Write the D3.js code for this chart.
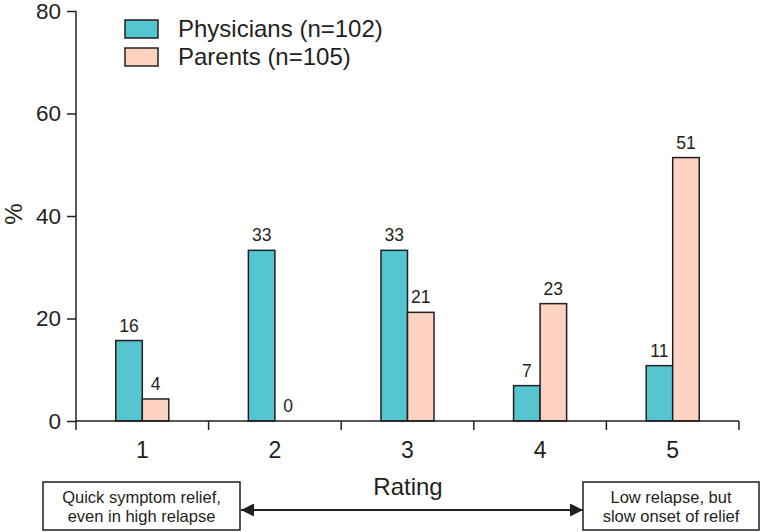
<!DOCTYPE html>
<html>
<head>
<meta charset="utf-8">
<script src="https://cdn.jsdelivr.net/npm/d3@7"></script>
<style>
  body { margin: 0; background: #fff; }
  text { font-family: "Liberation Sans", Arial, sans-serif; fill: #231f20; }
</style>
</head>
<body>
<script>
//Data
var ratings = ["1", "2", "3", "4", "5"];
var seriesNames = ["Physicians (n=102)", "Parents (n=105)"];
var physicians = [15.7, 33.3, 33.3, 6.9, 10.8];
var parents = [4.3, 0, 21.2, 22.9, 51.4];
var physLabels = ["16", "33", "33", "7", "11"];
var parLabels = ["4", "0", "21", "23", "51"];
var yTicks = [0, 20, 40, 60, 80];

var colors = ["#55c5d0", "#fcd3c1"];
var ink = "#231f20";

//Margins
var margin = {left: 76, right: 23, top: 11, bottom: 111},
    width = 762 - margin.left - margin.right,
    height = 532 - margin.top - margin.bottom;

var svg = d3.select("body")
    .append("svg")
    .attr("width", 762)
    .attr("height", 532);

var g = svg.append("g")
    .attr("transform", "translate(" + margin.left + "," + margin.top + ")");

//Scales
var x0 = d3.scaleBand().domain(ratings).range([0, width]).padding(0);
var bw = x0.bandwidth();
var x1 = d3.scaleBand().domain([0, 1]).range([bw / 2 - bw * 0.2, bw / 2 + bw * 0.2]).padding(0);
var y = d3.scaleLinear().domain([0, 80]).range([height, 0]);

//Rows for the grouped bars
var rows = ratings.map(function(r, i) {
  return [
    {cat: r, s: 0, v: physicians[i], label: physLabels[i]},
    {cat: r, s: 1, v: parents[i], label: parLabels[i]}
  ];
});

var groups = g.selectAll("g.grp")
    .data(rows)
    .enter().append("g")
    .attr("class", "grp")
    .attr("transform", function(d) { return "translate(" + x0(d[0].cat) + ",0)"; });

groups.selectAll("rect")
    .data(function(d) { return d.filter(function(e) { return e.v > 0; }); })
    .enter().append("rect")
    .attr("x", function(d) { return x1(d.s); })
    .attr("y", function(d) { return y(d.v); })
    .attr("width", x1.bandwidth())
    .attr("height", function(d) { return height - y(d.v); })
    .attr("fill", function(d) { return colors[d.s]; })
    .attr("stroke", ink)
    .attr("stroke-width", 1.5);

groups.selectAll("text.val")
    .data(function(d) { return d; })
    .enter().append("text")
    .attr("class", "val")
    .attr("x", function(d) { return x1(d.s) + x1.bandwidth() / 2; })
    .attr("y", function(d) { return y(d.v) - 9; })
    .attr("text-anchor", "middle")
    .style("font-size", "17.5px")
    .text(function(d) { return d.label; });

//Y axis
var yAxis = g.append("g")
    .call(d3.axisLeft(y).tickValues(yTicks).tickSize(9).tickPadding(6));
yAxis.select(".domain").attr("stroke", ink).attr("stroke-width", 1.5).attr("d", "M0," + height + "V0");
yAxis.selectAll(".tick line").attr("stroke", ink).attr("stroke-width", 1.5);
yAxis.selectAll(".tick text").style("font-size", "22.5px").attr("fill", ink);

//X axis with ticks at the band edges
var xg = g.append("g").attr("transform", "translate(0," + height + ")");
xg.append("line")
    .attr("x1", 0).attr("x2", width)
    .attr("stroke", ink).attr("stroke-width", 1.5);
var edges = ratings.map(function(r) { return x0(r); }).concat([width]);
xg.selectAll("line.tk")
    .data(edges)
    .enter().append("line")
    .attr("class", "tk")
    .attr("x1", function(d) { return d; }).attr("x2", function(d) { return d; })
    .attr("y1", 0).attr("y2", 9)
    .attr("stroke", ink).attr("stroke-width", 1.5);
xg.selectAll("text.cat")
    .data(ratings)
    .enter().append("text")
    .attr("class", "cat")
    .attr("x", function(d) { return x0(d) + bw / 2; })
    .attr("y", 37)
    .attr("text-anchor", "middle")
    .style("font-size", "23px")
    .text(function(d) { return d; });

//Y label
svg.append("text")
    .attr("transform", "translate(22,214) rotate(-90)")
    .attr("text-anchor", "middle")
    .style("font-size", "24px")
    .text("%");

//Legend
var legend = svg.append("g").attr("transform", "translate(125,20)");
seriesNames.forEach(function(name, i) {
  legend.append("rect")
      .attr("x", 0).attr("y", i * 28)
      .attr("width", 33).attr("height", 18)
      .attr("fill", colors[i])
      .attr("stroke", ink).attr("stroke-width", 1.5);
  legend.append("text")
      .attr("x", 53).attr("y", i * 28 + 17)
      .style("font-size", "24px")
      .text(name);
});

//Bottom annotation
svg.append("defs").append("marker")
    .attr("id", "head")
    .attr("viewBox", "0 0 10 10")
    .attr("refX", 10).attr("refY", 5)
    .attr("markerWidth", 14).attr("markerHeight", 13)
    .attr("markerUnits", "userSpaceOnUse")
    .attr("orient", "auto-start-reverse")
    .append("path")
    .attr("d", "M0,0L10,5L0,10Z")
    .attr("fill", ink);

svg.append("line")
    .attr("x1", 241).attr("x2", 583)
    .attr("y1", 510).attr("y2", 510)
    .attr("stroke", ink).attr("stroke-width", 1.8)
    .attr("marker-start", "url(#head)")
    .attr("marker-end", "url(#head)");

svg.append("text")
    .attr("x", 408).attr("y", 495)
    .attr("text-anchor", "middle")
    .style("font-size", "24px")
    .text("Rating");

var boxes = [
  {x: 43, w: 197, lines: ["Quick symptom relief,", "even in high relapse"]},
  {x: 583, w: 176, lines: ["Low relapse, but", "slow onset of relief"]}
];
boxes.forEach(function(b) {
  svg.append("rect")
      .attr("x", b.x).attr("y", 482)
      .attr("width", b.w).attr("height", 48)
      .attr("fill", "#fff")
      .attr("stroke", ink).attr("stroke-width", 1.5);
  b.lines.forEach(function(l, j) {
    svg.append("text")
        .attr("x", b.x + b.w / 2)
        .attr("y", 503 + j * 19)
        .attr("text-anchor", "middle")
        .style("font-size", "16.5px")
        .text(l);
  });
});
</script>
</body>
</html>
